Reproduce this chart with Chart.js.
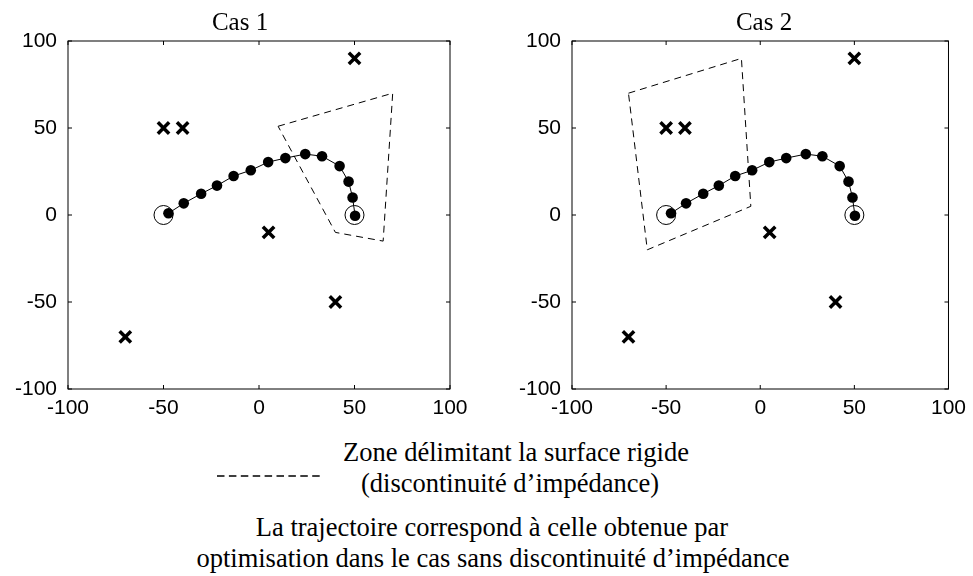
<!DOCTYPE html>
<html>
<head>
<meta charset="utf-8">
<script src="https://cdn.jsdelivr.net/npm/chart.js@4"></script>
<style>
  body { margin: 0; background: #fff; width: 973px; height: 576px; position: relative; overflow: hidden; }
  canvas { position: absolute; top: 0; }
  .txt { position: absolute; font-family: "Liberation Serif", "Times New Roman", serif; font-size: 26.5px; line-height: 30px; color: #000; white-space: nowrap; transform: translateX(-50%); }
  .ttl { font-size: 25px; }
  #dash { position: absolute; left: 217px; top: 473px; }
</style>
</head>
<body>
<canvas id="cas1" width="486" height="425" style="left:0"></canvas>
<canvas id="cas2" width="487" height="425" style="left:486px"></canvas>

<div class="txt ttl" style="left:240px; top:7px">Cas 1</div>
<div class="txt ttl" style="left:764px; top:7px">Cas 2</div>

<svg id="dash" width="110" height="6"><line x1="0" y1="3" x2="106" y2="3" stroke="#000" stroke-width="1.3" stroke-dasharray="7.5 4.4"/></svg>
<div class="txt" style="left:516px; top:437px">Zone délimitant la surface rigide</div>
<div class="txt" style="left:510px; top:468px">(discontinuité d’impédance)</div>
<div class="txt" style="left:492px; top:512px">La trajectoire correspond à celle obtenue par</div>
<div class="txt" style="left:493px; top:543px">optimisation dans le cas sans discontinuité d’impédance</div>

<script>
// trajectoire optimisée (identique dans les deux cas)
const trajX = [-47.4, -39.4, -30.3, -22, -13.3, -4.3, 4.8, 13.8, 24.2, 33, 42.2, 46.9, 49, 50.3];
const trajY = [1, 6.7, 12.2, 16.9, 22.4, 25.7, 30.4, 32.7, 35, 33.8, 28.1, 19.2, 10.1, -0.4];

// départ / arrivée (cercles)
const endX = [-50, 50];
const endY = [0, 0];

// obstacles (croix)
const crossX = [-50, -40, 50, 5, -70, 40];
const crossY = [50, 50, 90, -10, -70, -50];

// zone rigide, cas 1 et cas 2
const zone1X = [10, 70, 65, 40, 10];
const zone1Y = [51, 70, -15, -10, 51];
const zone2X = [-70, -10, -5, -60, -70];
const zone2Y = [70, 90, 5, -20, 70];

const tickVals = [-100, -50, 0, 50, 100];

const pts = (xs, ys) => xs.map((x, i) => ({ x: x, y: ys[i] }));

// cadre + graduations vers l'intérieur
const framePlugin = {
  id: 'frame',
  afterDraw(chart) {
    const { ctx, chartArea: a, scales } = chart;
    ctx.save();
    ctx.strokeStyle = '#000';
    ctx.lineWidth = 1;
    ctx.strokeRect(a.left, a.top, a.right - a.left, a.bottom - a.top);
    ctx.beginPath();
    tickVals.forEach(v => {
      const px = scales.x.getPixelForValue(v);
      const py = scales.y.getPixelForValue(v);
      ctx.moveTo(px, a.bottom); ctx.lineTo(px, a.bottom - 4);
      ctx.moveTo(px, a.top); ctx.lineTo(px, a.top + 4);
      ctx.moveTo(a.left, py); ctx.lineTo(a.left + 4, py);
      ctx.moveTo(a.right, py); ctx.lineTo(a.right - 4, py);
    });
    ctx.stroke();
    ctx.restore();
  }
};

function makeChart(id, zoneX, zoneY, yWidth, padRight) {
  const ctx = document.getElementById(id).getContext('2d');
  return new Chart(ctx, {
    type: 'scatter',
    data: {
      datasets: [
        {
          data: pts(zoneX, zoneY),
          showLine: true,
          borderColor: '#000',
          borderWidth: 1,
          borderDash: [7, 5],
          pointRadius: 0,
          tension: 0
        },
        {
          data: pts(trajX, trajY),
          showLine: true,
          borderColor: '#000',
          borderWidth: 1,
          pointRadius: 5.3,
          pointBackgroundColor: '#000',
          pointBorderWidth: 0
        },
        {
          data: pts(endX, endY),
          pointStyle: 'circle',
          pointRadius: 9.5,
          pointBackgroundColor: 'rgba(0,0,0,0)',
          pointBorderColor: '#000',
          pointBorderWidth: 1
        },
        {
          data: pts(crossX, crossY),
          pointStyle: 'crossRot',
          pointRadius: 8,
          pointBorderColor: '#000',
          pointBorderWidth: 3.5
        }
      ]
    },
    options: {
      responsive: false,
      animation: false,
      layout: { padding: { left: 0, right: padRight, top: 41, bottom: 0 } },
      plugins: {
        legend: { display: false },
        tooltip: { enabled: false }
      },
      scales: {
        x: {
          type: 'linear',
          min: -100, max: 100,
          grid: { display: false, drawTicks: false },
          border: { display: false },
          afterBuildTicks: s => { s.ticks = tickVals.map(v => ({ value: v })); },
          afterFit: s => { s.height = 36; },
          ticks: { color: '#000', padding: 7, maxRotation: 0, font: { family: 'Liberation Sans', size: 21 } }
        },
        y: {
          type: 'linear',
          min: -100, max: 100,
          grid: { display: false, drawTicks: false },
          border: { display: false },
          afterBuildTicks: s => { s.ticks = tickVals.map(v => ({ value: v })); },
          afterFit: s => { s.width = yWidth; },
          ticks: { color: '#000', padding: 11, font: { family: 'Liberation Sans', size: 21 } }
        }
      }
    },
    plugins: [framePlugin]
  });
}

makeChart('cas1', zone1X, zone1Y, 68, 36);
makeChart('cas2', zone2X, zone2Y, 86, 19);
</script>
</body>
</html>
